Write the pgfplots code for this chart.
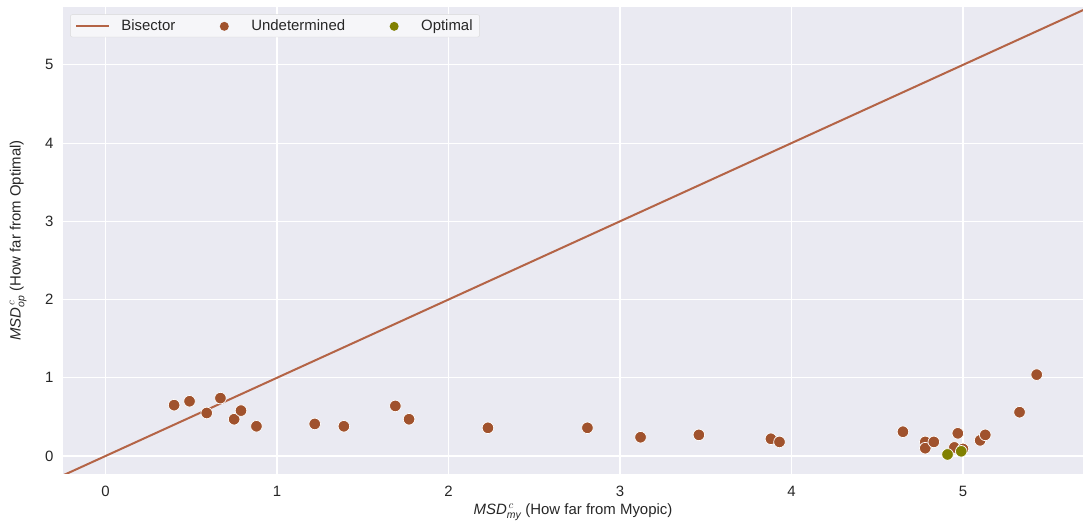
\documentclass[border=0pt]{standalone}
\usepackage{fontspec}
\setmainfont{Liberation Sans}
\usepackage{pgfplots}
\pgfplotsset{compat=1.18}
\definecolor{bg}{HTML}{EAEAF2}
\definecolor{sienna}{HTML}{A0522D}
\definecolor{olivec}{HTML}{808000}
\definecolor{linec}{RGB}{180,100,70}
\definecolor{txt}{gray}{0.15}
\begin{document}
\begin{tikzpicture}
\begin{axis}[
  scale only axis,
  width=1020bp, height=467bp,
  xmin=-0.248, xmax=5.70,
  ymin=-0.23, ymax=5.74,
  axis background/.style={fill=bg},
  axis line style={draw=none},
  major grid style={white, line width=1.2bp},
  grid=major,
  tick style={draw=none},
  xtick={0,1,2,3,4,5}, ytick={0,1,2,3,4,5},
  /pgf/number format/assume math mode=true,
  ticklabel style={font=\fontsize{15}{17}\selectfont, text=txt},
  xticklabel style={yshift=-9bp},
  yticklabel style={xshift=-6bp},
  xlabel={$\mathit{MSD}^{\,c}_{\mathit{my}}$ (How far from Myopic)},
  ylabel={$\mathit{MSD}^{\,c}_{\mathit{op}}$ (How far from Optimal)},
  label style={font=\fontsize{15}{17}\selectfont, text=txt},
  xlabel style={at={(axis description cs:0.5,-0.0814)}, anchor=center},
  ylabel style={at={(axis description cs:-0.044,0.5)}, anchor=center},
  legend style={at={(0.007,0.984)}, anchor=north west, draw=black!15, fill=white!55!bg, rounded corners=2bp,
    font=\fontsize{15}{17}\selectfont, text=txt, legend columns=3,
    /tikz/every odd column/.append style={column sep=9bp},
    /tikz/every even column/.append style={column sep=30bp},
    inner xsep=5bp, inner ysep=3bp},
  legend cell align=left,
  clip=true,
]
\addplot[linec, line width=2bp, legend image code/.code={\draw[line width=2bp] (0bp,0bp) -- (33bp,0bp);}] coordinates {(-0.3,-0.3) (5.8,5.8)};
\addlegendentry{Bisector}
\addplot[only marks, mark=*, mark size=5.8bp, mark options={fill=sienna, draw=white, line width=0.7bp},
  legend image code/.code={\path[draw=none,fill=none] (0bp,0bp) rectangle (33bp,0bp); \fill[sienna, draw=none] (17bp,-0.5bp) circle (4.5bp);}] coordinates {
(0.40,0.65) (0.49,0.70) (0.59,0.55) (0.67,0.74) (0.75,0.47) (0.79,0.58) (0.88,0.38)
(1.22,0.41) (1.39,0.38) (1.69,0.64) (1.77,0.47) (2.23,0.36) (2.81,0.36)
(3.12,0.24) (3.46,0.27) (3.88,0.22) (3.93,0.18) (4.65,0.31) (4.78,0.18) (4.78,0.10)
(4.83,0.18) (4.97,0.29) (4.95,0.11) (5.00,0.09) (5.10,0.20) (5.13,0.27) (5.33,0.56) (5.43,1.04)
};
\addlegendentry{Undetermined}
\addplot[only marks, mark=*, mark size=5.8bp, mark options={fill=olivec, draw=white, line width=0.7bp},
  legend image code/.code={\path[draw=none,fill=none] (0bp,0bp) rectangle (33bp,0bp); \fill[olivec, draw=none] (17bp,-0.5bp) circle (4.5bp);}] coordinates {
(4.91,0.02) (4.99,0.06)
};
\addlegendentry{Optimal}
\end{axis}
\pgfresetboundingbox
\path[use as bounding box] ([shift={(-63bp,-54bp)}]current axis.south west) rectangle ([shift={(0bp,7bp)}]current axis.north east);
\end{tikzpicture}
\end{document}
